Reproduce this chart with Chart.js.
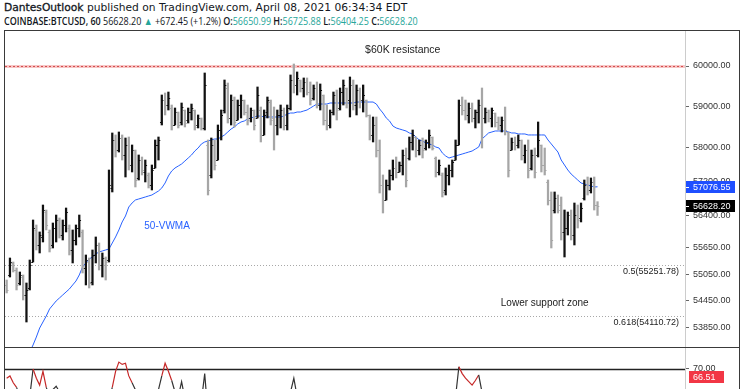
<!DOCTYPE html>
<html>
<head>
<meta charset="utf-8">
<script src="https://cdn.jsdelivr.net/npm/chart.js@4.4.1/dist/chart.umd.min.js"></script>
<style>
body{margin:0;background:#fff;width:745px;height:389px;overflow:hidden;}
#head{position:absolute;left:4px;top:1px;color:#131722;line-height:13.5px;white-space:nowrap;}
#line1{font-family:'DejaVu Sans',sans-serif;font-size:10.7px;}
#quote{font-family:'Open Sans',sans-serif;font-size:10.5px;transform:scaleX(0.855);transform-origin:0 0;}
#head b{font-weight:600}
#line1 b{font-weight:normal;-webkit-text-stroke:0.3px #131722}
.up{color:#26a69a}
#frame{position:absolute;left:4px;top:30px;width:734px;height:420px;border:1px solid #3a3a3a;}
#main{position:absolute;left:0;top:0;}
#rsiBox{position:absolute;left:0;top:316px;width:734px;height:80px;border-top:1px solid #3a3a3a;}
#rsi{position:absolute;left:0;top:0;}
</style>
</head>
<body>
<div id="head">
  <div id="line1"><b>DantesOutlook</b> published on TradingView.com, April 08, 2021 06:34:34 EDT</div>
  <div id="quote"></div>
</div>
<div id="frame">
  <canvas id="main" width="734" height="316"></canvas>
  <div id="rsiBox"><canvas id="rsi" width="734" height="60"></canvas></div>
</div>
<script>
// COINBASE:BTCUSD hourly bars
const opens=[
54805,55032,55306,55146,54850,54986,54579,54737,55328,56066,
55719,55904,56484,56020,55719,56112,56298,55950,56182,56112,
55604,55834,56112,56020,55192,55328,54873,55489,55719,55260,
55420,55374,57048,58192,57951,58240,57832,58072,57593,57951,
57285,57712,57427,57356,57119,57522,58072,58627,59162,59040,
58967,58554,58869,58627,58918,58675,58869,58918,58554,58724,
58482,58072,57356,58072,57712,58433,58918,59457,58724,59162,
58675,59040,59162,58869,58724,58918,58724,58918,58313,58869,
59113,58724,58554,58797,58918,58554,58967,59654,59531,59654,
59457,59605,59358,59211,59457,59040,59285,58675,58554,58869,
59285,58967,59358,59457,59162,59531,59040,59407,59162,59162,
58797,58313,58554,57951,57119,56765,57119,57356,57522,57427,
57593,57832,57760,58144,58264,57951,58072,57999,58144,58264,
57760,57427,57356,57001,57356,57474,57712,58072,59040,58918,
58797,58967,58724,58869,59040,58724,58869,58724,58845,58627,
58554,58675,58385,57951,58144,58072,58192,57832,57951,57522,
57832,57832,58072,57593,57190,56765,56531,56812,56648,56020,
56112,56414,55950,56414,56345,56812,57119,57001,57190,56650.99
];
const highs=[
54918,55420,55328,55192,55100,55032,54850,55374,56298,56182,
56020,56648,56531,56066,56228,56414,56345,56298,56578,56182,
56066,56182,56414,56066,55489,55420,55604,55904,55765,55535,
55443,57474,58361,58313,58385,58313,58240,58264,58072,57951,
57832,57784,57712,57403,57593,58192,58264,59285,59334,59358,
59040,58967,58869,59089,58918,58967,59064,58918,58797,58724,
59827,58192,58240,58192,58554,58918,59654,59580,59285,59236,
59162,59285,59162,59040,58967,58918,59482,58991,58918,59236,
59162,58991,58918,59040,58967,59040,59778,60050,59852,59654,
59704,59704,59605,59531,59605,59556,59285,59040,58918,59358,
59407,59457,59654,59457,59728,59654,59531,59457,59531,59162,
58797,58748,58748,58192,57356,57237,57474,57712,57784,57664,
57951,57999,58264,58433,58264,58192,58240,58192,58433,58264,
57784,57712,57403,57522,57593,57712,58192,59162,59236,59162,
59089,59089,58918,59162,59457,58967,58918,58967,58845,58748,
58748,58991,58385,58240,58264,58313,58192,58072,58192,57951,
57999,58627,58072,57999,57237,56954,56954,56883,56836,56531,
56484,56531,56695,56648,56695,57237,57308,57285,57308,56725.88
];
const lows=[
54624,54986,55100,54692,54805,54466,53972,54692,55328,55604,
55535,55788,56066,55558,55650,55788,55880,55834,56020,55489,
55306,55719,55904,55078,54805,54737,54805,55306,55146,54986,
54918,55328,56954,57784,57903,57712,57308,57474,57427,57072,
57237,57356,57190,57048,57001,57522,57712,58554,58797,58918,
58433,58554,58482,58554,58506,58602,58675,58433,58482,58433,
58433,56883,57285,57474,57712,58192,58845,58602,58554,58506,
58675,58724,58797,58554,58627,58433,58724,58144,58313,58724,
58554,57951,58313,58482,58433,58433,58918,59334,59285,59358,
59236,59285,59040,59162,58967,58918,58554,58433,58482,58797,
58675,58918,59040,58967,58748,58918,58797,58967,58869,58748,
58192,58144,57784,56930,56461,56765,57001,57237,57285,57427,
57356,57072,57712,57951,57784,57832,57760,57951,57999,57951,
57308,57356,56836,56883,57119,57308,57712,58072,58797,58675,
58602,58627,58482,58602,57999,58602,58627,58506,58506,58433,
58385,58313,57308,57951,57951,57999,57712,57641,57285,57474,
57285,57784,57427,57356,56648,55650,56461,56461,55834,55443,
55950,55834,55719,56112,56252,56765,56883,56930,56531,56404.25
];
const closes=[
54692,55328,55146,54805,55032,54579,54692,55260,56112,55719,
55950,56531,56182,55650,56112,56298,55950,56182,56484,55604,
55834,56112,56298,55192,55374,54850,55489,55719,55260,55420,
55328,57119,58192,57951,58240,57832,58072,57593,57951,57237,
57712,57474,57593,57119,57474,58072,58192,59162,59040,59211,
58554,58869,58554,58991,58602,58869,58967,58506,58724,58482,
59531,57001,58072,57593,58433,58797,59531,58724,59162,58627,
59040,59162,58869,58675,58918,58554,59285,58313,58797,59162,
58675,58554,58797,58918,58554,58967,59654,59531,59704,59457,
59605,59358,59162,59457,59040,59407,58675,58554,58869,59285,
58918,59358,59531,59113,59531,59040,59407,59162,59285,58797,
58313,58554,57951,57119,56765,57119,57356,57522,57427,57593,
57832,57237,58144,58313,57951,58072,57951,58144,58313,57999,
57427,57593,56954,57356,57474,57664,58072,59040,58918,58797,
58967,58724,58869,59040,58724,58869,58724,58918,58627,58554,
58675,58433,57474,58144,58072,58192,57832,57951,57474,57832,
57427,58192,57593,57474,56765,55834,56812,56531,56020,56112,
56414,55950,56414,56298,56578,57119,57001,57190,56648,56628.20
];
// 50-period volume weighted moving average
const vwma=[
null,null,null,null,null,null,null,53307,53461,53638,
53838,53972,54106,54264,54354,54444,54511,54579,54647,54714,
54805,54895,55032,55214,55306,55397,55443,55512,55558,55581,
55604,55627,55765,55904,56066,56252,56391,56601,56695,56765,
56789,56812,56836,56860,56883,56930,56977,57048,57166,57332,
57450,57522,57569,57617,57688,57760,57832,57927,57999,58096,
58144,58168,58192,58216,58216,58264,58313,58385,58457,58506,
58578,58627,58651,58699,58724,58748,58772,58772,58748,58748,
58748,58748,58748,58748,58772,58821,58845,58845,58869,58869,
58894,58918,58967,59016,59064,59064,59064,59064,59089,59089,
59089,59089,59089,59089,59089,59089,59113,59113,59113,59113,
59113,59113,59064,58942,58845,58724,58651,58530,58482,58457,
58433,58409,58361,58337,58264,58192,58168,58120,58096,58072,
58023,57999,57879,57808,57760,57784,57808,57832,57855,57879,
57903,57927,57975,58023,58216,58288,58361,58385,58409,58409,
58409,58409,58385,58361,58361,58337,58337,58337,58313,58313,
58313,58313,58313,58313,58192,58096,57999,57903,57712,57593,
57474,57379,57308,57237,57166,57143,57119,57096,57072,57076.55
];
// RSI pane (only the top of it is in view)
const rsi=[
66,67,64,62,58,55,50,58,70,66,
63,69,62,58,61,62.5,60,55,56,48,
50,54,56,45,42,40,46,50,47,46,
47,56,62,69,73,72,72.5,67,64,61,
58,57,56,52,54,57,61,67,72.5,69,
65,60,58,64.5,57,56,55,52,51,56,
68,50,51,50,55,57,60,54,56,52,
54,55,53,51,53,50,56,47,51,54,
50,49,52,53,50,54,60,66,58,57,
59,55,53,56,52,55,49,47,51,55,
52,55,58,53,57,52,56,53,55,50,
44,46,40,33,28,32,36,40,39,41,
45,38,48,51,47,49,47,50,52,49,
42,45,38,43,44,47,58,71,68,66,
64.5,63,65,67.4,60,55,54,56,52,51,
52,49,40,44,45,47,43,45,41,45,
42,48,44,43,35,30,36,34,31,30,
35,33,38,37,41,47,46,48,44,45
];
const yTicks=[60000,59000,58000,57200,56400,55650,55050,54450,53850];
const resistance=60000;
const fibLevels=[55251.78,54110.72];
const fibNames=['0.5','0.618'];
const rsiTicks=[70];
const rsiLast=66.51;
const change='+672.45 (+1.2%)';

const nSlots=206; // bar slots incl. empty space on the right
const labels=[];
for(let i=0;i<nSlots;i++) labels.push(i);

const last=closes.length-1;
const f2=v=>Number(v).toFixed(2);
document.getElementById('quote').innerHTML=
  '<b>COINBASE:BTCUSD, 60</b> '+f2(closes[last])+' <span class="up">&#9650;</span> '+change+
  ' <b>O:</b><span class="up">'+f2(opens[last])+'</span> <b>H:</b><span class="up">'+f2(highs[last])+
  '</span> <b>L:</b><span class="up">'+f2(lows[last])+'</span> <b>C:</b><span class="up">'+f2(closes[last])+'</span>';

const upColor='#111111', downColor='#a6a6a6';
const barColors=opens.map((o,i)=>closes[i]>=o?upColor:downColor);
const FONT='Liberation Sans';

const ohlcTicks={
  id:'ohlcTicks',
  afterDatasetsDraw(chart){
    const ctx=chart.ctx, y=chart.scales.y;
    const meta=chart.getDatasetMeta(0);
    ctx.save();
    ctx.lineWidth=1;
    meta.data.forEach((bar,i)=>{
      ctx.strokeStyle=barColors[i];
      const yo=Math.round(y.getPixelForValue(opens[i]))+0.5;
      const yc=Math.round(y.getPixelForValue(closes[i]))+0.5;
      ctx.beginPath();
      ctx.moveTo(bar.x-1.8,yo);ctx.lineTo(bar.x,yo);
      ctx.moveTo(bar.x,yc);ctx.lineTo(bar.x+1.8,yc);
      ctx.stroke();
    });
    ctx.restore();
  }
};

const mainNotes={
  id:'mainNotes',
  beforeDatasetsDraw(chart){
    const ctx=chart.ctx, a=chart.chartArea, y=chart.scales.y;
    ctx.save();
    // $60K resistance
    const ry=Math.round(y.getPixelForValue(resistance));
    ctx.strokeStyle='rgba(240,140,140,0.5)';
    ctx.lineWidth=3;
    ctx.beginPath();ctx.moveTo(a.left,ry+0.5);ctx.lineTo(a.right,ry+0.5);ctx.stroke();
    ctx.strokeStyle='rgba(200,40,40,0.75)';
    ctx.lineWidth=1;
    ctx.setLineDash([2,2]);
    ctx.beginPath();ctx.moveTo(a.left,ry+0.5);ctx.lineTo(a.right,ry+0.5);ctx.stroke();
    // fib levels
    ctx.strokeStyle='#a8a8a8';
    ctx.setLineDash([1,2]);
    fibLevels.forEach(v=>{
      const py=Math.round(y.getPixelForValue(v))+0.5;
      ctx.beginPath();ctx.moveTo(a.left,py);ctx.lineTo(a.right,py);ctx.stroke();
    });
    ctx.restore();
  },
  afterDraw(chart){
    const ctx=chart.ctx, a=chart.chartArea, x=chart.scales.x, y=chart.scales.y;
    ctx.save();
    ctx.textBaseline='middle';
    ctx.fillStyle='#222';
    ctx.font='9px "'+FONT+'"';
    ctx.textAlign='right';
    fibLevels.forEach((v,k)=>{
      ctx.fillText(fibNames[k]+'('+v.toFixed(2)+')',a.right-6,y.getPixelForValue(v)+6.5);
    });
    ctx.font='10.5px "'+FONT+'"';
    ctx.textAlign='center';
    ctx.fillText('$60K resistance',x.getPixelForValue(120),y.getPixelForValue(60400));
    ctx.font='10px "'+FONT+'"';
    ctx.fillText('Lower support zone',x.getPixelForValue(163),y.getPixelForValue(54400));
    ctx.fillStyle='#2962ff';
    ctx.textAlign='left';
    ctx.fillText('50-VWMA',x.getPixelForValue(42)-1,y.getPixelForValue(56160));
    // last value boxes on the price scale
    const boxes=[[vwma[last],'#1f4fff'],[closes[last],'#000000']];
    ctx.font='9px "'+FONT+'"';
    boxes.forEach(b=>{
      const py=y.getPixelForValue(b[0]);
      ctx.fillStyle=b[1];
      ctx.fillRect(a.right+1,Math.round(py-6),49,12);
      ctx.strokeStyle='#fff';
      ctx.beginPath();ctx.moveTo(a.right+1,Math.round(py)+0.5);ctx.lineTo(a.right+4,Math.round(py)+0.5);ctx.stroke();
      ctx.fillStyle='#fff';
      ctx.fillText(f2(b[0]),a.right+8,py+0.5);
    });
    ctx.restore();
  }
};

const mainChart=new Chart(document.getElementById('main'),{
  type:'bar',
  data:{
    labels:labels,
    datasets:[
      {
        type:'bar',
        data:lows.map((l,i)=>[l,highs[i]]),
        backgroundColor:barColors,
        barThickness:1.6,
        borderWidth:0
      },
      {
        type:'line',
        data:vwma,
        borderColor:'#2962ff',
        borderWidth:1,
        pointRadius:0,
        tension:0
      }
    ]
  },
  options:{
    responsive:false,
    animation:false,
    layout:{padding:0},
    plugins:{legend:{display:false},tooltip:{enabled:false}},
    scales:{
      x:{display:false,offset:true},
      y:{
        type:'logarithmic',
        position:'right',
        min:53417,
        max:60875,
        afterBuildTicks:s=>{s.ticks=yTicks.map(v=>({value:v}));},
        afterFit:s=>{s.width=54;s.paddingTop=0;s.paddingBottom=0;},
        ticks:{callback:v=>f2(v),autoSkip:false,padding:4,color:'#333',font:{family:FONT,size:9}},
        grid:{display:true,drawOnChartArea:false,drawTicks:true,tickLength:4,color:'#666'},
        border:{display:true,color:'#cccccc'}
      }
    }
  },
  plugins:[mainNotes,ohlcTicks]
});

const rsiNotes={
  id:'rsiNotes',
  beforeDatasetsDraw(chart){
    const ctx=chart.ctx, a=chart.chartArea, y=chart.scales.y;
    const py=Math.round(y.getPixelForValue(70))+0.5;
    ctx.save();
    ctx.strokeStyle='#222';
    ctx.lineWidth=1.3;
    ctx.beginPath();ctx.moveTo(a.left,py);ctx.lineTo(a.right,py);ctx.stroke();
    ctx.restore();
  },
  afterDraw(chart){
    const ctx=chart.ctx, a=chart.chartArea, y=chart.scales.y;
    const py=y.getPixelForValue(rsiLast);
    ctx.save();
    ctx.fillStyle='#f23645';
    ctx.fillRect(a.right+4,Math.round(py-6),35,12);
    ctx.fillStyle='#fff';
    ctx.font='9px "'+FONT+'"';
    ctx.textBaseline='middle';
    ctx.fillText(f2(rsiLast),a.right+8,py+0.5);
    ctx.restore();
  }
};

new Chart(document.getElementById('rsi'),{
  type:'line',
  data:{
    labels:labels,
    datasets:[{
      data:rsi,
      borderWidth:1.2,
      pointRadius:0,
      tension:0,
      segment:{borderColor:c=>(c.p0.parsed.y>=62&&c.p1.parsed.y>=62)?'#c62828':'#333333'}
    }]
  },
  options:{
    responsive:false,
    animation:false,
    layout:{padding:0},
    plugins:{legend:{display:false},tooltip:{enabled:false}},
    scales:{
      x:{display:false,offset:true},
      y:{
        position:'right',
        min:53.04,
        max:79.13,
        afterBuildTicks:s=>{s.ticks=rsiTicks.map(v=>({value:v}));},
        afterFit:s=>{s.width=54;s.paddingTop=0;s.paddingBottom=0;},
        ticks:{callback:v=>f2(v),padding:4,color:'#333',font:{family:FONT,size:9}},
        grid:{display:true,drawOnChartArea:false,drawTicks:true,tickLength:4,color:'#666'},
        border:{display:true,color:'#cccccc'}
      }
    }
  },
  plugins:[rsiNotes]
});
</script>
</body>
</html>
